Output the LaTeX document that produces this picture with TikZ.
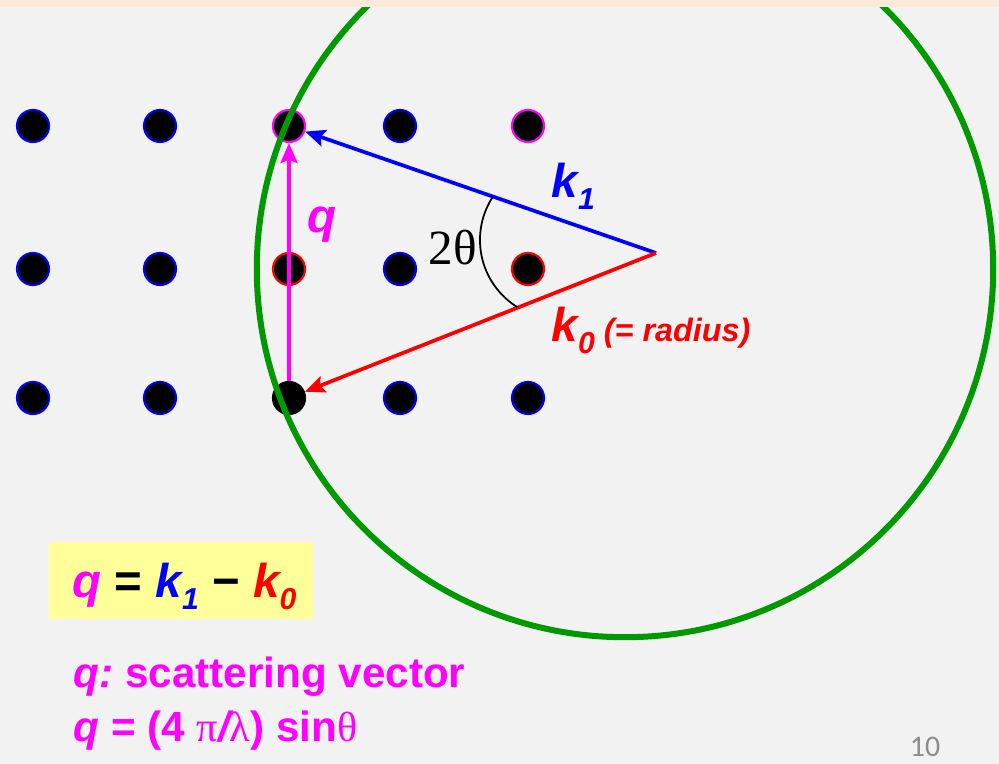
\documentclass[tikz,border=0pt]{standalone}
\usepackage{fontspec}
\setmainfont{Liberation Sans}
\newfontfamily\grk{Liberation Serif}
\newfontfamily\pagefont{Carlito}
\usetikzlibrary{arrows.meta}
\definecolor{bgc}{HTML}{F2F2F2}
\definecolor{topc}{HTML}{FDE9D9}
\definecolor{ewald}{HTML}{009900}
\definecolor{mag}{HTML}{FF00FF}
\definecolor{boxc}{HTML}{FFFF99}
\definecolor{pgc}{HTML}{8C8C8C}
\newcommand{\sbs}[1]{\raisebox{-3.4pt}{\fontsize{8.6}{9}\selectfont #1}}
\begin{document}
\begin{tikzpicture}[x=0.01cm,y=-0.01cm,
  dot/.style={circle,fill=black,minimum size=0.32cm,inner sep=0pt,line width=0.6pt},
  vec/.style={line width=1.05pt,-{Stealth[length=0.2cm,width=0.17cm,inset=0.035cm]}},
  big/.style={font=\fontsize{13.5}{15}\selectfont\bfseries\itshape,inner sep=0pt,anchor=base west},
  body/.style={font=\fontsize{12}{14}\selectfont\bfseries,text=mag,inner sep=0pt,anchor=base west}]
\useasboundingbox (0,0) rectangle (999,764);
\fill[bgc] (0,0) rectangle (999,764);
% reciprocal lattice points
\node[dot,draw=blue] (d11) at (33,126) {};
\node[dot,draw=blue] (d12) at (160,126) {};
\node[dot,draw=mag]  (d13) at (289,126) {};
\node[dot,draw=blue] (d14) at (400,126) {};
\node[dot,draw=mag]  (d15) at (528,126) {};
\node[dot,draw=blue] (d21) at (33,269) {};
\node[dot,draw=blue] (d22) at (160,269) {};
\node[dot,draw=red]  (d23) at (289,269) {};
\node[dot,draw=blue] (d24) at (400,269) {};
\node[dot,draw=red]  (d25) at (528,269) {};
\node[dot,draw=blue] (d31) at (33,398) {};
\node[dot,draw=blue] (d32) at (160,398) {};
\node[dot,draw=black] (d33) at (289,398) {};
\node[dot,draw=blue] (d34) at (400,398) {};
\node[dot,draw=blue] (d35) at (528,398) {};
% Ewald circle
\begin{scope}
\clip (0,0) rectangle (999,764);
\coordinate (E) at (625,269);
\draw[ewald,line width=0.06cm] (E) circle[radius=3.68cm];
\end{scope}
\fill[topc] (0,0) rectangle (999,7);
% vectors
\coordinate (O) at (656,253);
\draw[vec,blue] (O) -- (d13);
\draw[vec,red] (O) -- (d33);
\draw[vec,mag] (d33) -- (d13);
% angle arc
\coordinate (A) at (559,240);
\draw[line width=0.5pt] ([shift={(147:0.79cm)}]A) arc[start angle=147,end angle=238,radius=0.79cm];
% labels
\node[big,text=mag] (lq) at (307,233) {q};
\node[font=\fontsize{14}{15}\selectfont\grk,inner sep=0pt,anchor=base west] (lth) at (428,265) {2θ};
\node[big,text=blue] (lk1) at (551,198) {k\sbs{1}};
\node[big,text=red] (lk0) at (551,342) {k\sbs{0}\hspace{0.09cm}{\fontsize{9.2}{11}\selectfont (= radius)}};
% equation box
\node[fill=boxc,minimum width=2.64cm,minimum height=0.77cm,inner sep=0pt] (box) at (181,580.5) {};
\node[big] (eq) at (72,598) {\textcolor{mag}{q} {\upshape =} \textcolor{blue}{k\sbs{1}} {\upshape −} \textcolor{red}{k\sbs{0}}};
% description
\node[body] (t1) at (73,688) {\itshape q:\upshape\ scattering vector};
\node[body] (t2) at (73,742) {\itshape q\upshape\ = (4 {\grk\mdseries π}\itshape/\upshape{\grk\mdseries λ}) sin{\grk\mdseries θ}};
% page number
\node[font=\fontsize{8.5}{10}\selectfont\pagefont,text=pgc,inner sep=0pt,anchor=base] (pg) at (925,757) {10};
\end{tikzpicture}
\end{document}
